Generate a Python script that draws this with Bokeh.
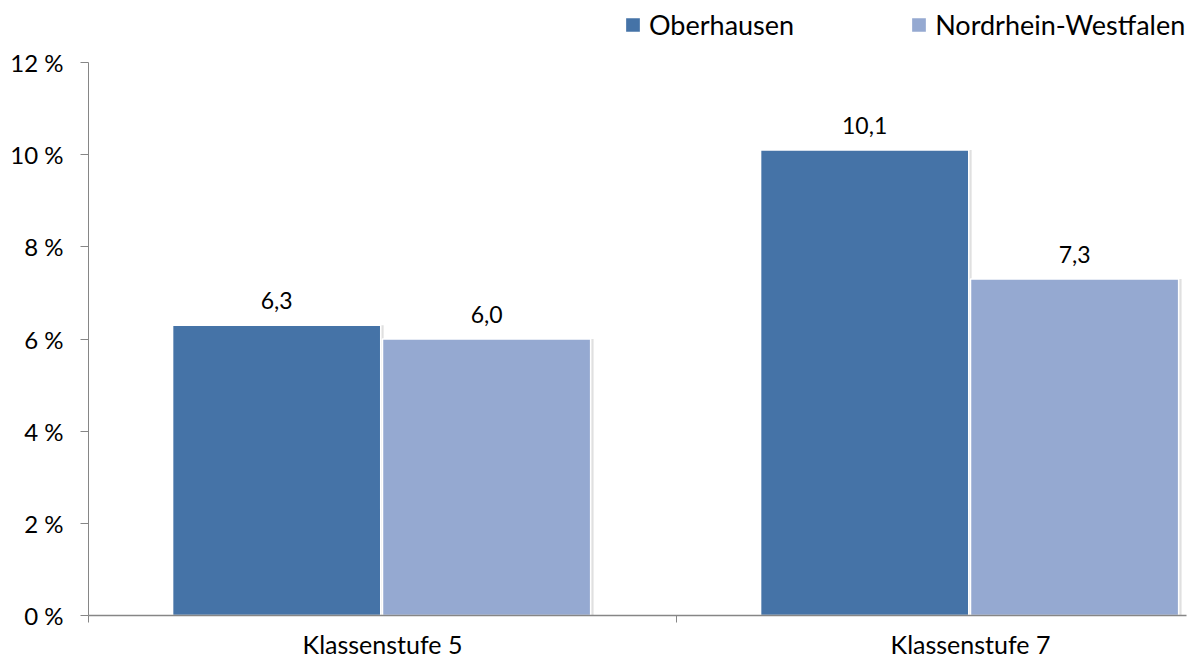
from bokeh.plotting import figure
from bokeh.models import (ColumnDataSource, FixedTicker, PrintfTickFormatter, Legend, LegendItem,
                          Range1d, LabelSet)
from bokeh.transform import dodge
from bokeh.core.properties import value
from bokeh.embed import file_html
from bokeh.resources import INLINE

categories = ["Klassenstufe 5", "Klassenstufe 7"]
series_names = ["Oberhausen", "Nordrhein-Westfalen"]
oberhausen = [6.3, 10.1]
nrw = [6.0, 7.3]
y_ticks = [0, 2, 4, 6, 8, 10, 12]

colors = ["#4573A7", "#95A9D1"]
FONT = "Lato"

xpos = [i + 0.5 for i in range(len(categories))]
src = ColumnDataSource(dict(
    x=xpos,
    ob=oberhausen,
    nrw=nrw,
    ob_lbl=[f"{v:.1f}".replace(".", ",") for v in oberhausen],
    nrw_lbl=[f"{v:.1f}".replace(".", ",") for v in nrw],
))

WIDTH, HEIGHT = 1190, 661
LEFT, RIGHT, BOTTOM = 88, 4, 46
frame_h = HEIGHT - BOTTOM          # frame reaches the top of the canvas
frame_w = WIDTH - LEFT - RIGHT
y_top = 12 * frame_h / 553.0       # 12 % line sits 62 px below the top
x_end = frame_w / 588.0

p = figure(width=WIDTH, height=HEIGHT, output_backend="svg", toolbar_location=None,
           x_range=Range1d(0, x_end), y_range=Range1d(0, y_top),
           min_border_left=LEFT, min_border_right=RIGHT, min_border_top=0,
           min_border_bottom=BOTTOM)
p.outline_line_color = None
p.grid.grid_line_color = None
p.background_fill_color = "white"
p.border_fill_color = "white"

W = 0.354
off_ob = -0.180
off_nrw = 0.177

# subtle shadows
for off, top in [(off_ob, "ob"), (off_nrw, "nrw")]:
    p.vbar(x=dodge("x", off + 0.005, range=p.x_range), top=top, bottom=-0.06, width=W,
           source=src, fill_color="#000000", fill_alpha=0.12, line_color=None)

r1 = p.vbar(x=dodge("x", off_ob, range=p.x_range), top="ob", width=W, source=src,
            fill_color=colors[0], line_color="white", line_width=1.5)
r2 = p.vbar(x=dodge("x", off_nrw, range=p.x_range), top="nrw", width=W, source=src,
            fill_color=colors[1], line_color="white", line_width=1.5)

for off, top, lbl in [(off_ob, "ob", "ob_lbl"), (off_nrw, "nrw", "nrw_lbl")]:
    ls = LabelSet(x=dodge("x", off, range=p.x_range), y=top, text=lbl, source=src,
                  text_align="center", text_baseline="middle", y_offset=25,
                  text_font=value(FONT), text_font_size="23px", text_color="#000000")
    p.add_layout(ls)

# y axis
p.yaxis.ticker = FixedTicker(ticks=y_ticks)
p.yaxis.bounds = (0, 12)
p.yaxis.formatter = PrintfTickFormatter(format="%d %%")
p.yaxis.axis_line_color = "#868686"
p.yaxis.major_tick_line_color = "#868686"
p.yaxis.major_tick_out = 8
p.yaxis.major_tick_in = 0
p.yaxis.minor_tick_line_color = None
p.yaxis.major_label_text_font = FONT
p.yaxis.major_label_text_font_size = "24px"
p.yaxis.major_label_text_color = "#000000"
p.yaxis.major_label_standoff = 17

# x axis
p.xaxis.ticker = FixedTicker(ticks=xpos, minor_ticks=[0, 1, 2])
p.xaxis.major_label_overrides = {x: c for x, c in zip(xpos, categories)}
p.xaxis.axis_line_color = "#868686"
p.xaxis.axis_line_width = 1.5
p.xaxis.major_tick_line_color = None
p.xaxis.major_tick_out = 0
p.xaxis.major_tick_in = 0
p.xaxis.minor_tick_line_color = "#868686"
p.xaxis.minor_tick_out = 7
p.xaxis.minor_tick_in = 0
p.xaxis.major_label_text_font = FONT
p.xaxis.major_label_text_font_size = "25px"
p.xaxis.major_label_text_color = "#000000"
p.xaxis.major_label_standoff = 6

legend = Legend(items=[LegendItem(label=series_names[0], renderers=[r1]),
                       LegendItem(label=series_names[1], renderers=[r2])],
                orientation="horizontal", location=(535, frame_h - 41),
                glyph_width=19, glyph_height=19, label_standoff=7, spacing=115,
                label_text_font=FONT, label_text_font_size="27px", label_text_color="#000000",
                border_line_color=None, background_fill_alpha=0, padding=0, margin=0)
p.add_layout(legend, "center")

open("out.html", "w").write(file_html(p, INLINE))
